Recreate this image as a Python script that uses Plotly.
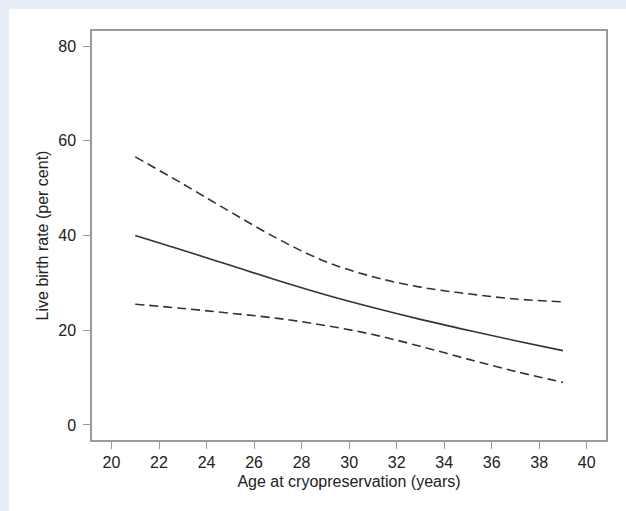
import plotly.graph_objects as go

age = [21, 23, 25, 27, 29, 31, 33, 35, 37, 39]
rate = [40.0, 36.9, 33.7, 30.5, 27.5, 24.8, 22.3, 20.0, 17.8, 15.7]
upper_ci = [56.6, 50.9, 45.0, 39.3, 34.5, 31.3, 29.1, 27.7, 26.6, 26.0]
lower_ci = [25.5, 24.6, 23.6, 22.5, 21.0, 19.1, 16.6, 13.9, 11.3, 9.0]

x_ticks = [20, 22, 24, 26, 28, 30, 32, 34, 36, 38, 40]
y_ticks = [0, 20, 40, 60, 80]

line_col = "#333333"
frame_col = "#9a9a9a"
font = dict(family="Liberation Sans, Arial, sans-serif", size=16, color="#222222")

fig = go.Figure()
fig.add_trace(go.Scatter(x=age, y=upper_ci, mode="lines",
                         line=dict(color=line_col, width=1.6, dash="9px,5px", shape="spline"),
                         showlegend=False, hoverinfo="skip"))
fig.add_trace(go.Scatter(x=age, y=rate, mode="lines",
                         line=dict(color=line_col, width=1.6, shape="spline"),
                         showlegend=False))
fig.add_trace(go.Scatter(x=age, y=lower_ci, mode="lines",
                         line=dict(color=line_col, width=1.6, dash="9px,5px", shape="spline"),
                         showlegend=False, hoverinfo="skip"))

# white panel on light blue page
fig.add_shape(type="rect", xref="paper", yref="paper",
              x0=(9 - 92) / 514, x1=1.2, y0=-0.4, y1=(440 - 9) / 409,
              fillcolor="white", line=dict(width=0), layer="below")

fig.update_layout(
    width=626, height=511,
    margin=dict(l=92, r=20, t=31, b=71),
    paper_bgcolor="#e6eef8",
    plot_bgcolor="white",
    font=font,
    showlegend=False,
)
fig.update_xaxes(
    range=[19.18, 40.81], tickvals=x_ticks, ticktext=[str(v) for v in x_ticks],
    showgrid=False, zeroline=False,
    showline=True, linecolor=frame_col, linewidth=1.5, mirror=True,
    ticks="outside", ticklen=7, tickcolor=frame_col, tickwidth=1.2,
    title=dict(text="Age at cryopreservation (years)", standoff=6, font=font),
    tickfont=font,
)
fig.update_yaxes(
    range=[-3.17, 83.17], tickvals=y_ticks, ticktext=[str(v) for v in y_ticks],
    showgrid=False, zeroline=False,
    showline=True, linecolor=frame_col, linewidth=1.5, mirror=True,
    ticks="outside", ticklen=7, tickcolor=frame_col, tickwidth=1.2,
    ticklabelstandoff=4,
    title=dict(text="Live birth rate (per cent)", standoff=6, font=font),
    tickfont=font,
)

fig.write_html("out.html", config={"displayModeBar": False},
               post_script="document.body.style.margin='0';document.body.style.background='#e6eef8';")
